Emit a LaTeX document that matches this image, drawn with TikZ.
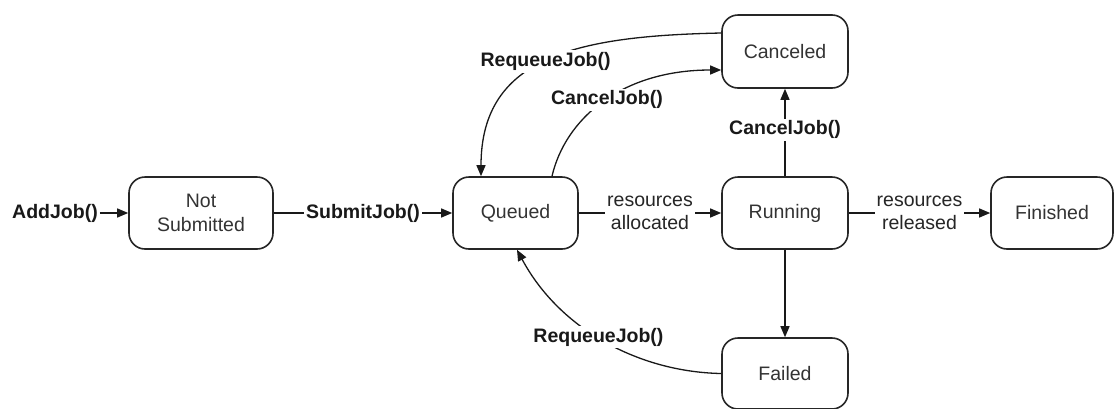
\documentclass[tikz,border=0pt]{standalone}
\usepackage{fontspec}
\setmainfont{Liberation Sans}
\usetikzlibrary{arrows.meta}
\begin{document}
\begin{tikzpicture}[x=1pt,y=-1pt,
  every node/.style={font=\fontsize{19.5}{23.5}\selectfont},
  state/.style={draw=black!85, line width=1.6pt, rounded corners=16pt, align=center,
    minimum height=72pt, text=black!80},
  conn/.style={draw=black!90, line width=1.3pt, -{Triangle[length=11pt,width=9pt]}},
  lbl/.style={font=\fontsize{19.5}{23.5}\selectfont\bfseries, text=black!90, fill=white, inner sep=2pt},
  txt/.style={align=center, text=black!85, fill=white, inner sep=2pt}]
\useasboundingbox (0,0) rectangle (1115,408);
% states
\node[state, minimum width=144pt] (ns) at (201,213) {Not\\Submitted};
\node[state, minimum width=125pt] (q)  at (515.5,213) {Queued};
\node[state, minimum width=126pt] (r)  at (785,213) {Running};
\node[state, minimum width=122pt] (fi) at (1052,213) {Finished};
\node[state, minimum width=126pt, minimum height=73pt] (c) at (785,51.5) {Canceled};
\node[state, minimum width=126pt, minimum height=71pt] (fa) at (785,373.5) {Failed};
% entry
\node[lbl] (add) at (55,213) {AddJob()};
\draw[conn] (add) -- (ns);
% straight transitions
\draw[conn] (ns) -- node[lbl] {SubmitJob()} (q);
\draw[conn] (q) -- node[txt] {resources\\allocated} (r);
\draw[conn] (r) -- node[txt] {resources\\released} (fi);
\draw[conn] (r) -- node[lbl, pos=0.53] {CancelJob()} (c);
\draw[conn] (r) -- (fa);
% curved transitions
\draw[conn] ([yshift=18.5pt]c.west) .. controls (580,36) and (481,55) ..
  node[lbl, pos=0.51] {RequeueJob()} ([xshift=-34.5pt]q.north);
\draw[conn] ([xshift=36.5pt]q.north) .. controls (565,120) and (620,70) ..
  node[lbl, pos=0.52] {CancelJob()} ([yshift=-18.5pt]c.west);
\draw[conn] (fa.west) .. controls (640,372) and (560,330) ..
  node[lbl, pos=0.53] {RequeueJob()} ([xshift=1.5pt]q.south);
\end{tikzpicture}
\end{document}
